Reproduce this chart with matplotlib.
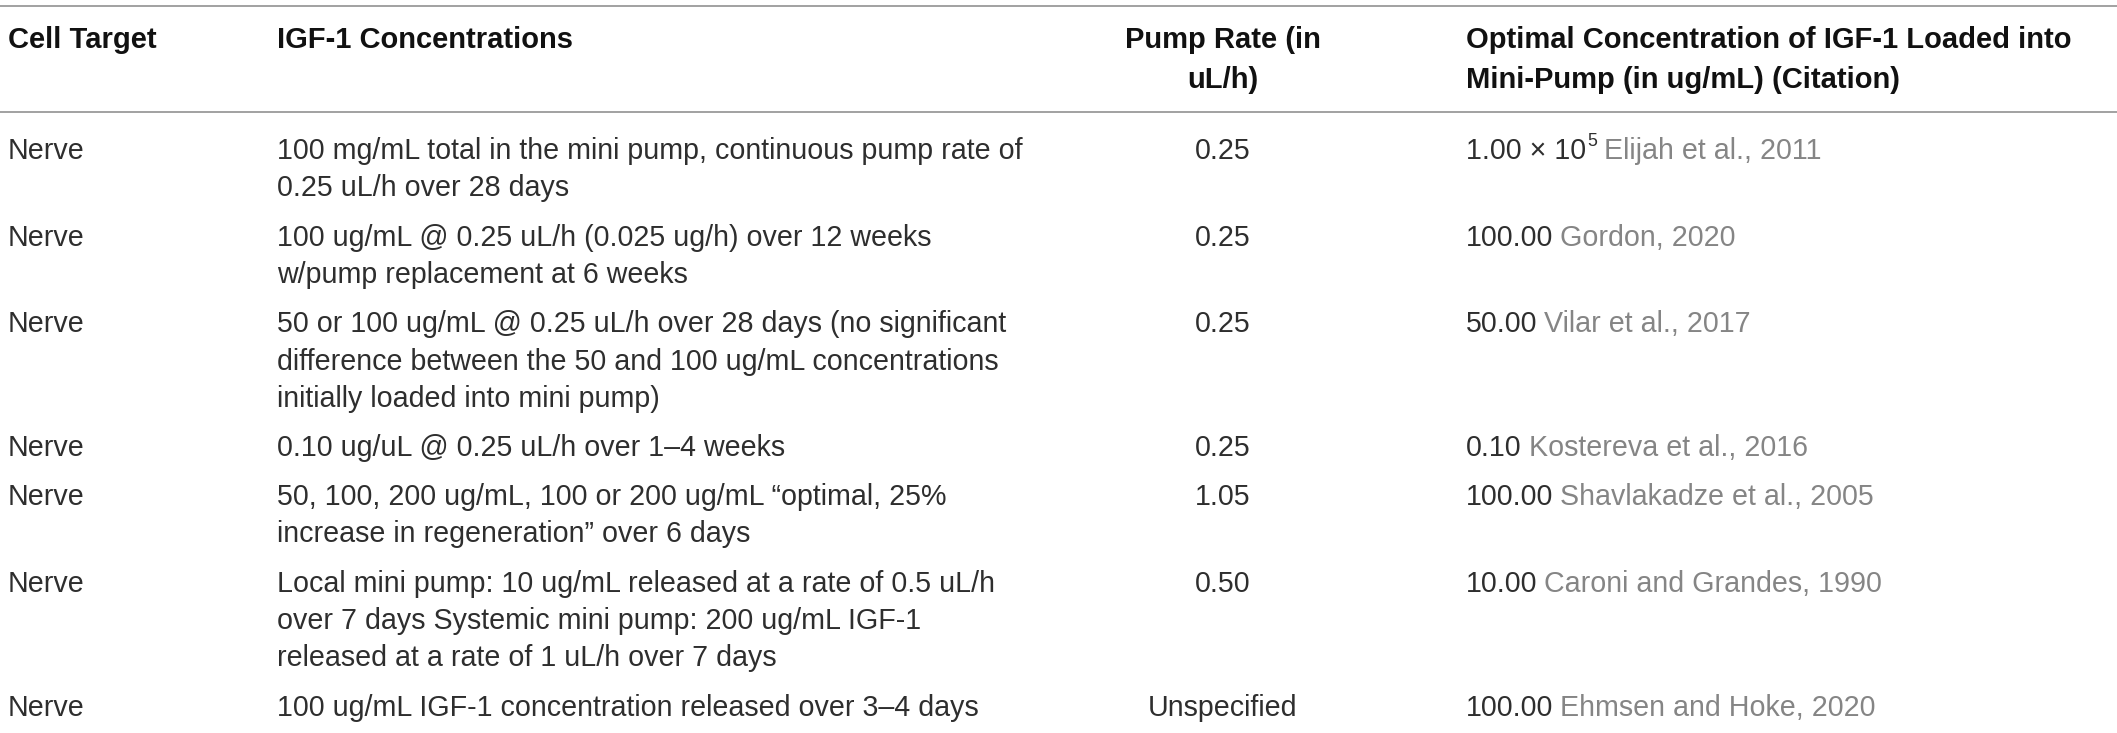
import matplotlib
matplotlib.use("Agg")
import matplotlib.pyplot as plt

plt.rcParams['font.family'] = ['Liberation Sans', 'DejaVu Sans']

# table content
headers = ["Cell Target", "IGF-1 Concentrations", "Pump Rate (in\nuL/h)",
           "Optimal Concentration of IGF-1 Loaded into\nMini-Pump (in ug/mL) (Citation)"]

cell_target = ["Nerve"] * 7

concentrations = [
    ["100 mg/mL total in the mini pump, continuous pump rate of",
     "0.25 uL/h over 28 days"],
    ["100 ug/mL @ 0.25 uL/h (0.025 ug/h) over 12 weeks",
     "w/pump replacement at 6 weeks"],
    ["50 or 100 ug/mL @ 0.25 uL/h over 28 days (no significant",
     "difference between the 50 and 100 ug/mL concentrations",
     "initially loaded into mini pump)"],
    ["0.10 ug/uL @ 0.25 uL/h over 1\u20134 weeks"],
    ["50, 100, 200 ug/mL, 100 or 200 ug/mL \u201coptimal, 25%",
     "increase in regeneration\u201d over 6 days"],
    ["Local mini pump: 10 ug/mL released at a rate of 0.5 uL/h",
     "over 7 days Systemic mini pump: 200 ug/mL IGF-1",
     "released at a rate of 1 uL/h over 7 days"],
    ["100 ug/mL IGF-1 concentration released over 3\u20134 days"],
]

pump_rate = ["0.25", "0.25", "0.25", "0.25", "1.05", "0.50", "Unspecified"]

optimal = ["1.00 \u00d7 10", "100.00", "50.00", "0.10", "100.00", "10.00", "100.00"]
optimal_sup = ["5", "", "", "", "", "", ""]
citation = ["Elijah et al., 2011", "Gordon, 2020", "Vilar et al., 2017",
            "Kostereva et al., 2016", "Shavlakadze et al., 2005",
            "Caroni and Grandes, 1990", "Ehmsen and Hoke, 2020"]

W, H = 2117, 733
fig = plt.figure(figsize=(W / 100, H / 100), dpi=100)
ax = fig.add_axes([0, 0, 1, 1])
ax.set_xlim(0, W)
ax.set_ylim(H, 0)
ax.axis('off')

fs = 20.6
fs_head = 21.0
col_x = [8, 277, 1223, 1466]
dark = '#2e2e2e'
grey = '#858585'
line_col = '#9a9a9a'

# rules
ax.axhline(6, color=line_col, lw=1.3)
ax.axhline(112, color=line_col, lw=1.3)

# header
for i, h in enumerate(headers):
    ha = 'center' if i == 2 else 'left'
    for j, part in enumerate(h.split('\n')):
        ax.text(col_x[i], 40 + j * 40, part, ha=ha, va='center', fontsize=fs_head,
                fontweight='bold', color='#111111')

# body
step = 37.5
gap = 49
y = 151
for r in range(len(cell_target)):
    ax.text(col_x[0], y, cell_target[r], ha='left', va='center', fontsize=fs, color=dark)
    for j, part in enumerate(concentrations[r]):
        ax.text(col_x[1], y + j * step, part, ha='left', va='center', fontsize=fs, color=dark)
    ax.text(col_x[2], y, pump_rate[r], ha='center', va='center', fontsize=fs, color=dark)
    t = ax.text(col_x[3], y, optimal[r], ha='left', va='center', fontsize=fs, color=dark)
    xref = t
    if optimal_sup[r]:
        xref = ax.annotate(optimal_sup[r], xy=(1, 0.55), xycoords=t, xytext=(1, 0),
                           textcoords='offset points', ha='left', va='bottom',
                           fontsize=fs * 0.62, color=dark)
    ax.annotate(citation[r], xy=(1, 0), xycoords=(xref, t), xytext=(5, 0),
                textcoords='offset points', ha='left', va='bottom',
                fontsize=fs, color=grey)
    y += (len(concentrations[r]) - 1) * step + gap

fig.savefig('out.png', dpi=100)
